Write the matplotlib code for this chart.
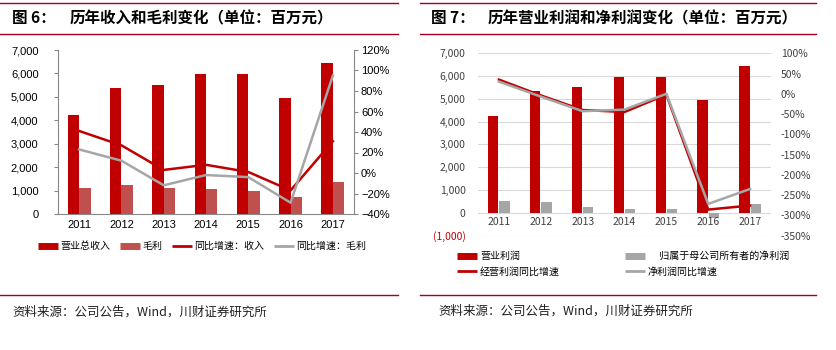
import matplotlib
matplotlib.use("Agg")
import matplotlib.pyplot as plt
from matplotlib.lines import Line2D
from matplotlib.ticker import FuncFormatter, MultipleLocator

plt.rcParams['font.family'] = ['Noto Sans CJK SC', 'DejaVu Sans']

# ---------------- data ----------------
years = ['2011', '2012', '2013', '2014', '2015', '2016', '2017']

revenue = [4220, 5365, 5505, 5960, 5960, 4937, 6460]
gross_profit = [1095, 1237, 1095, 1067, 996, 725, 1366]
revenue_growth = [41, 27, 3, 8, 1, -17, 31]
gross_growth = [23, 12, -12, -2, -4, -29, 95]

op_profit = [4240, 5350, 5513, 5980, 5980, 4960, 6460]
net_profit = [513, 470, 250, 160, 160, -220, 380]
op_growth = [35, -4, -40, -45, -2, -286, -276]
net_growth = [30, -7, -43, -39, 0, -272, -235]

DARK_RED = '#C00000'
LIGHT_RED = '#C0504D'
GREY = '#A6A6A6'
LINE_RED = '#A50021'
NUM_FONT = ['Liberation Sans', 'Noto Sans CJK SC']

W, H = 836, 350
fig = plt.figure(figsize=(W / 100, H / 100), dpi=100)

def fx(px):
    return px / W

def fy(py):
    return 1 - py / H

x = list(range(len(years)))
bw = 0.27

# ---------------- left chart ----------------
ax1 = fig.add_axes([fx(58), fy(214), fx(354 - 58), fy(50) - fy(214)])
ax1.bar([i - bw / 2 for i in x], revenue, width=bw, color=DARK_RED, zorder=2)
ax1.bar([i + bw / 2 for i in x], gross_profit, width=bw, color=LIGHT_RED, zorder=2)
ax1.set_xlim(-0.5, 6.5)
ax1.set_ylim(0, 7000)
ax1.yaxis.set_major_locator(MultipleLocator(1000))
ax1.yaxis.set_major_formatter(FuncFormatter(lambda v, p: f'{int(v):,}'))
ax1.set_xticks(x)
ax1.set_xticklabels(years)
for s in ['top', 'right']:
    ax1.spines[s].set_visible(False)
for s in ['left', 'bottom']:
    ax1.spines[s].set_color('#888888')
    ax1.spines[s].set_linewidth(0.8)
ax1.tick_params(axis='y', labelsize=8, length=3, color='#888888', pad=11)
ax1.tick_params(axis='x', labelsize=8, length=0, pad=4)

ax1r = ax1.twinx()
ax1r.plot(x, revenue_growth, color=DARK_RED, lw=1.8, zorder=3)
ax1r.plot(x, gross_growth, color=GREY, lw=1.8, zorder=3)
ax1r.set_ylim(-40, 120)
ax1r.yaxis.set_major_locator(MultipleLocator(20))
ax1r.yaxis.set_major_formatter(FuncFormatter(lambda v, p: f'{v:.0f}%'.replace('-', '\u2212')))
for s in ['top', 'left', 'bottom']:
    ax1r.spines[s].set_visible(False)
ax1r.spines['right'].set_color('#888888')
ax1r.spines['right'].set_linewidth(0.8)
ax1r.tick_params(axis='y', labelsize=8, length=3, color='#888888', pad=2)

for lab in ax1.get_xticklabels() + ax1.get_yticklabels() + ax1r.get_yticklabels():
    lab.set_family(NUM_FONT)

h1 = [Line2D([], [], color=DARK_RED, lw=5, solid_capstyle='butt'),
      Line2D([], [], color=LIGHT_RED, lw=5, solid_capstyle='butt'),
      Line2D([], [], color=DARK_RED, lw=2, solid_capstyle='butt'),
      Line2D([], [], color=GREY, lw=2, solid_capstyle='butt')]
l1 = ['营业总收入', '毛利', '同比增速：收入', '同比增速：毛利']
fig.legend(h1, l1, loc='center', bbox_to_anchor=(fx(202), fy(246)), ncol=4,
           frameon=False, fontsize=7.2, handlelength=2.0, handletextpad=0.3,
           columnspacing=0.9, borderpad=0)

# ---------------- right chart ----------------
ax2 = fig.add_axes([fx(478), fy(235.5), fx(771 - 478), fy(53.3) - fy(235.5)])
ax2.bar([i - bw / 2 for i in x], op_profit, width=bw * 0.9, color=DARK_RED, zorder=2)
ax2.bar([i + bw / 2 for i in x], net_profit, width=bw * 0.9, color=GREY, zorder=2)
ax2.set_xlim(-0.5, 6.5)
ax2.set_ylim(-1000, 7000)
ax2.yaxis.set_major_locator(MultipleLocator(1000))

def lfmt(v, p):
    v = int(round(v))
    if v < 0:
        return f'({abs(v):,})'
    return f'{v:,}'

ax2.yaxis.set_major_formatter(FuncFormatter(lfmt))
ax2.grid(axis='y', color='#D9D9D9', lw=0.8, zorder=0)
ax2.set_xticks([])
for s in ax2.spines.values():
    s.set_visible(False)
ax2.tick_params(axis='y', labelsize=7.5, length=0, pad=9, labelcolor='#404040')
for i, yr in enumerate(years):
    ax2.annotate(yr, (i, 0), xytext=(0, -3), textcoords='offset points',
                 ha='center', va='top', fontsize=7.5, color='#404040')

ax2r = ax2.twinx()
ax2r.plot(x, op_growth, color=DARK_RED, lw=1.8, zorder=3)
ax2r.plot(x, net_growth, color=GREY, lw=1.8, zorder=3)
ax2r.set_ylim(-350, 100)
ax2r.yaxis.set_major_locator(MultipleLocator(50))
ax2r.yaxis.set_major_formatter(FuncFormatter(lambda v, p: f'{v:.0f}%'))
for s in ax2r.spines.values():
    s.set_visible(False)
ax2r.tick_params(axis='y', labelsize=7.5, length=0, pad=7, labelcolor='#404040')

fig.canvas.draw()
for lab in ax2.get_yticklabels():
    if lab.get_text().startswith('('):
        lab.set_color('#C00000')

h2 = [Line2D([], [], color=DARK_RED, lw=5, solid_capstyle='butt'),
      Line2D([], [], color=DARK_RED, lw=2, solid_capstyle='butt'),
      Line2D([], [], color=GREY, lw=5, solid_capstyle='butt'),
      Line2D([], [], color=GREY, lw=2, solid_capstyle='butt')]
l2 = ['营业利润', '经营利润同比增速', '     归属于母公司所有者的净利润', '净利润同比增速']
fig.legend(h2, l2, loc='upper left', bbox_to_anchor=(fx(452), fy(246)), ncol=2,
           frameon=False, fontsize=7.2, handlelength=2.0, handletextpad=0.3,
           columnspacing=6.5, labelspacing=0.55, borderpad=0)

# ---------------- titles, rules, sources ----------------
for x0, x1 in [(0, 398), (420, 816)]:
    for yy in [3, 34, 295]:
        fig.add_artist(Line2D([fx(x0), fx(x1)], [fy(yy), fy(yy)], color=LINE_RED, lw=1.0))

fig.text(fx(12), fy(18), '图 6：', fontsize=11.2, weight='bold', va='center')
fig.text(fx(70), fy(18), '历年收入和毛利变化（单位：百万元）', fontsize=11.2, weight='bold', va='center')
fig.text(fx(431), fy(18), '图 7：', fontsize=11.2, weight='bold', va='center')
fig.text(fx(488), fy(18), '历年营业利润和净利润变化（单位：百万元）', fontsize=11.2, weight='bold', va='center')

fig.text(fx(12), fy(312), '资料来源：公司公告，Wind，川财证券研究所', fontsize=9, style='italic',
         va='center', color='#202020')
fig.text(fx(438), fy(311), '资料来源：公司公告，Wind，川财证券研究所', fontsize=9, style='italic',
         va='center', color='#202020')

fig.savefig('out.png', dpi=100)
